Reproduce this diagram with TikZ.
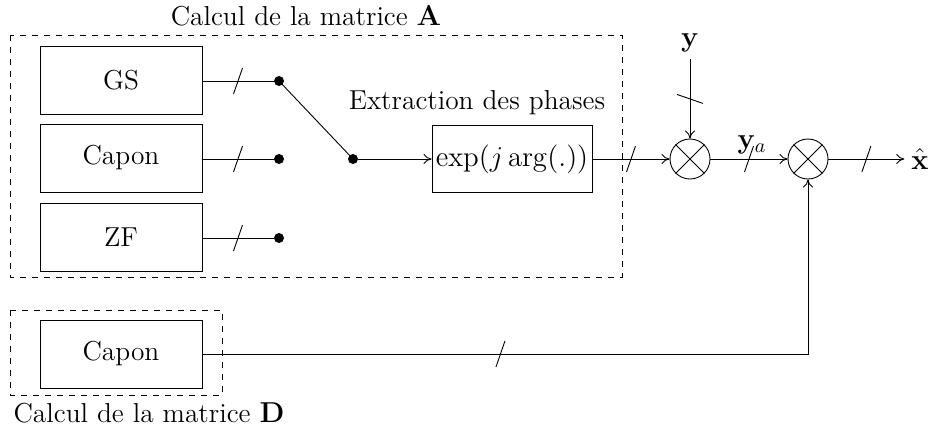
\documentclass[tikz,border=0pt]{standalone}
\usetikzlibrary{decorations.markings,arrows.meta}
\tikzset{
 every node/.style={font=\fontsize{13.7pt}{16pt}\selectfont},
 blk/.style={draw, minimum width=81pt, minimum height=34pt, inner sep=0},
 grp/.style={draw, dashed},
 dot/.style={circle, fill, inner sep=0, minimum size=5pt},
 mult/.style={circle, draw, minimum size=20pt, inner sep=0},
 bus/.style={postaction={decorate, decoration={markings, mark=at position #1 with {\draw[-] (-2.25pt,-6.5pt) -- (2.25pt,6.5pt);}}}},
 bus/.default=0.5,
}
\begin{document}
\begin{tikzpicture}[x=0.5pt,y=-0.5pt, line width=0.45pt, >={To[length=4pt,width=5pt]}]
\useasboundingbox (0,0) rectangle (935,430);
% group A
\draw[grp] (10,35) rectangle (622,277);
\node (titleA) at (306,16) {Calcul de la matrice $\mathbf{A}$};
\node[blk] (gs) at (121,80) {GS};
\node[blk] (capA) at (121,158) {Capon};
\node[blk] (zf) at (121,237) {ZF};
\node[dot] (d1) at (279,81) {};
\node[dot] (d2) at (279,159) {};
\node[dot] (d3) at (279,238) {};
\node[dot] (sw) at (353,159) {};
\draw[bus] (gs.east |- d1) -- (d1);
\draw[bus] (capA.east |- d2) -- (d2);
\draw[bus] (zf.east |- d3) -- (d3);
\draw (d1.center) -- (sw.center);
\node[draw, minimum width=80pt, minimum height=33.5pt, inner sep=0] (ex) at (512,159) {$\exp(j\arg(.))$};
\node (exlbl) at (477,103) {Extraction des phases};
\draw[->] (sw) -- (ex.west);
% multipliers
\node[mult] (m1) at (690,159) {};
\node[mult] (m2) at (808,159) {};
\foreach \m in {m1,m2}{
  \draw (\m.north west) -- (\m.south east);
  \draw (\m.north east) -- (\m.south west);
}
\node (y) at (690,43) {$\mathbf{y}$};
\node (ya) at (752,145) {$\mathbf{y}_a$};
\node (xh) at (920,159) {$\hat{\mathbf{x}}$};
\draw[->, bus] (ex.east) -- (m1.west);
\draw[->, bus] (y.south) -- (m1.north);
\draw[->, bus] (m1.east) -- (m2.west);
\draw[->, bus] (m2.east) -- (xh.west);
% group D
\draw[grp] (10,310) rectangle (222,395);
\node[blk] (capD) at (121,354) {Capon};
\node (titleD) at (149,413) {Calcul de la matrice $\mathbf{D}$};
\draw[->, bus=0.382] (capD.east) -| (m2.south);
\end{tikzpicture}
\end{document}
